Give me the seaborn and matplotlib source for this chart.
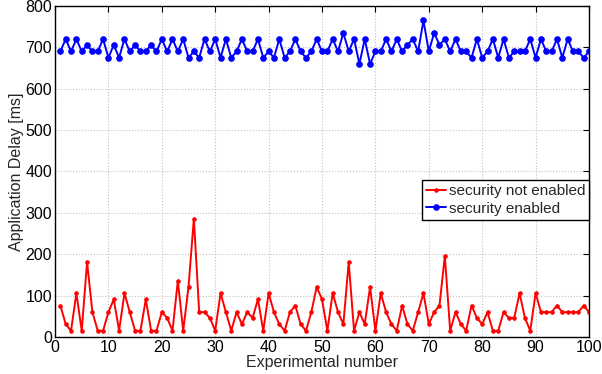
import numpy as np
import pandas as pd
import seaborn as sns
import matplotlib
matplotlib.use('Agg')
import matplotlib.pyplot as plt

# experiment index 1..100
experiment = list(range(1, 101))

# application delay without security [ms]
delay_not_enabled = [
    76, 31, 15, 106, 15, 181, 60, 15, 15, 60,
    91, 15, 106, 60, 15, 15, 91, 15, 15, 60,
    46, 15, 136, 15, 121, 286, 60, 60, 46, 15,
    106, 60, 15, 60, 31, 60, 46, 91, 15, 106,
    60, 31, 15, 60, 76, 31, 15, 60, 121, 91,
    15, 106, 60, 31, 181, 15, 60, 31, 121, 15,
    106, 60, 31, 15, 76, 31, 15, 60, 106, 31,
    60, 76, 196, 15, 60, 31, 15, 76, 46, 31,
    60, 15, 15, 60, 46, 46, 106, 46, 15, 106,
    60, 60, 60, 76, 60, 60, 60, 60, 76, 60,
]

# application delay with security [ms]
delay_enabled = [
    690, 720, 690, 720, 690, 706, 690, 690, 720, 675,
    706, 675, 720, 690, 706, 690, 690, 706, 690, 720,
    690, 720, 690, 720, 675, 690, 675, 720, 690, 720,
    675, 720, 675, 690, 720, 690, 690, 720, 675, 690,
    675, 720, 675, 690, 720, 690, 675, 690, 720, 690,
    690, 720, 690, 735, 690, 720, 660, 720, 660, 690,
    690, 720, 690, 720, 690, 706, 720, 690, 765, 690,
    735, 706, 720, 690, 720, 690, 690, 675, 720, 675,
    690, 720, 675, 720, 675, 690, 690, 690, 720, 675,
    720, 690, 690, 720, 675, 720, 690, 690, 675, 690,
]

sns.set_style('white')
plt.rcParams['font.family'] = ['Liberation Sans', 'DejaVu Sans']
plt.rcParams['font.size'] = 11.5

fig = plt.figure(figsize=(6.02, 3.74), dpi=100)
ax = fig.add_axes([0.0914, 0.099, 0.887, 0.885])

sns.lineplot(x=experiment, y=delay_not_enabled, ax=ax, color='red', lw=1.4,
             marker='o', markersize=2.5, markeredgecolor='red',
             label='security not enabled')
sns.lineplot(x=experiment, y=delay_enabled, ax=ax, color='blue', lw=1.4,
             marker='o', markersize=4, markeredgecolor='blue',
             label='security enabled')

ax.set_xlim(0, 100)
ax.set_ylim(0, 800)
ax.set_xticks(np.arange(0, 101, 10))
ax.set_yticks(np.arange(0, 801, 100))
ax.grid(True, linestyle=':', color='#c0c0c0', linewidth=0.8)
ax.tick_params(direction='in', top=True, right=True, length=4, width=0.8,
               labelsize=11.5, colors='black', pad=2)
for s in ax.spines.values():
    s.set_color('black')
    s.set_linewidth(1.0)

ax.set_xlabel('Experimental number', fontsize=11.5, labelpad=0.5)
ax.set_ylabel('Application Delay [ms]', fontsize=11.5, labelpad=1)

leg = ax.legend(loc='upper right', bbox_to_anchor=(1.0, 0.474), fontsize=11,
                fancybox=False, framealpha=1, edgecolor='black',
                handlelength=1.3, handletextpad=0.2, borderpad=0.25,
                labelspacing=0.25, borderaxespad=0)
leg.get_frame().set_linewidth(1.0)

fig.savefig('out.png', dpi=100)
